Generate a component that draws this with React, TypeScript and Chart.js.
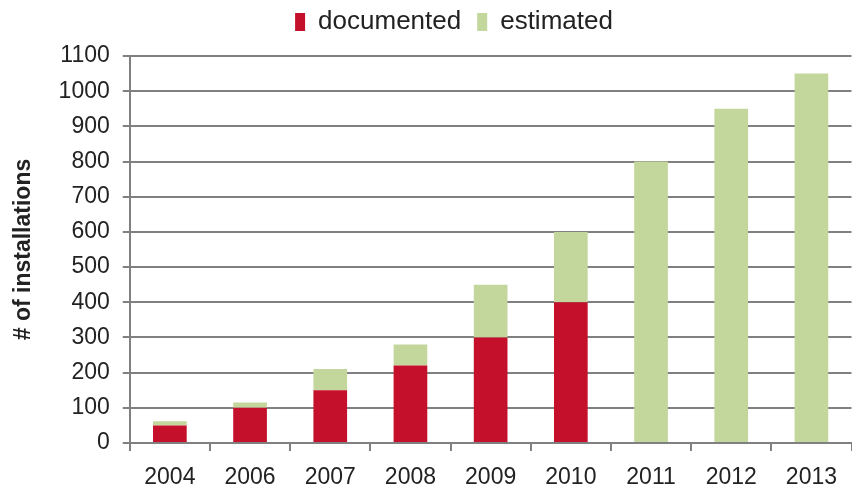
import React, { useEffect, useRef } from "react";
import { Chart, registerables } from "chart.js";

Chart.register(...registerables);

const categories = ["2004", "2006", "2007", "2008", "2009", "2010", "2011", "2012", "2013"];
const documented = [50, 100, 150, 220, 300, 400, 0, 0, 0];
const estimated = [12, 15, 60, 60, 150, 200, 800, 950, 1050];

const FONT = "Liberation Sans, Arial, Helvetica, sans-serif";

const legendTweak = {
  id: "legendTweak",
  beforeInit(chart: any) {
    const orig = chart.legend.fit;
    chart.legend.fit = function () {
      orig.bind(chart.legend)();
      this.height = 56;
    };
  },
  afterLayout(chart: any) {
    const lg = chart.legend;
    lg.top -= 7;
    lg.bottom -= 7;
    lg.left += 28;
    lg.right += 28;
  },
};

export default function App() {
  const ref = useRef<HTMLCanvasElement>(null);
  useEffect(() => {
    document.body.style.margin = "0";
    const chart = new Chart(ref.current!, {
      type: "bar",
      data: {
        labels: categories,
        datasets: [
          { label: "documented", data: documented, backgroundColor: "#C5102C", barPercentage: 0.42, categoryPercentage: 1 },
          { label: "estimated", data: estimated, backgroundColor: "#C3D69B", barPercentage: 0.42, categoryPercentage: 1 },
        ],
      },
      plugins: [legendTweak],
      options: {
        animation: false,
        responsive: false,
        layout: { padding: { left: 0, right: 0, top: 0, bottom: 0 } },
        plugins: {
          legend: {
            position: "top",
            labels: {
              font: { family: FONT, size: 26 },
              color: "#222",
              boxWidth: 10,
              boxHeight: 18,
              padding: 16,
            },
          },
          tooltip: { enabled: false },
        },
        scales: {
          x: {
            stacked: true,
            grid: { display: true, drawOnChartArea: false, offset: true, color: "#808080", lineWidth: 2, tickLength: 8 },
            border: { color: "#808080", width: 2 },
            ticks: { font: { family: FONT, size: 23, lineHeight: 1.0 }, color: "#222", padding: 15 },
            afterFit: (scale: any) => {
              scale.height = 43;
            },
          },
          y: {
            stacked: true,
            min: 0,
            max: 1100,
            ticks: {
              stepSize: 100,
              font: { family: FONT, size: 23 },
              color: "#222",
              padding: 13,
              callback: (v: any) => String(v),
            },
            grid: { color: "#808080", lineWidth: 2, tickLength: 7 },
            border: { color: "#808080", width: 2 },
            title: {
              display: true,
              text: "# of installations",
              font: { family: FONT, size: 23, weight: "bold" },
              color: "#222",
              padding: { top: 10, bottom: 8 },
            },
          },
        },
      },
    });
    return () => chart.destroy();
  }, []);
  return <canvas ref={ref} width={852} height={486} style={{ display: "block" }} />;
}
